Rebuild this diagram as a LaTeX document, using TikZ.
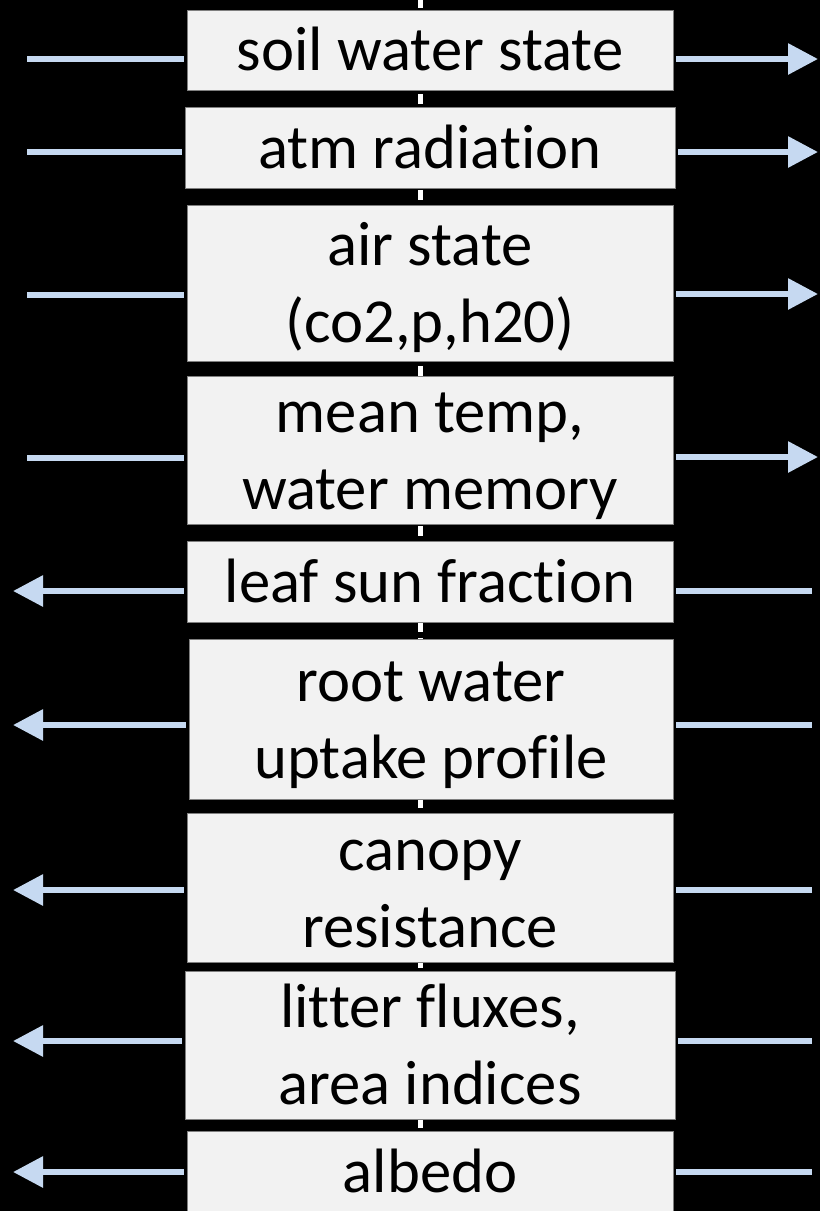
\documentclass[tikz,border=0pt]{standalone}
\usepackage{fontspec}
\setmainfont{Carlito}[Ligatures={NoCommon,NoRequired,NoContextual}]
\usetikzlibrary{arrows.meta}

\definecolor{boxfill}{RGB}{242,242,242}
\definecolor{boxline}{RGB}{127,127,127}
\definecolor{flowblue}{RGB}{198,217,241}
\newcommand\lstrut{\rule[-0.244em]{0pt}{1.144em}}

\tikzset{every picture/.style={line width=0.75pt}}
\tikzset{
  varbox/.style={draw=boxline, fill=boxfill, inner sep=0pt, align=center, text=black,
    font=\fontsize{47}{57.75}\selectfont},
  flow/.style={draw=flowblue, line width=4.5pt, shorten <=2pt},
  flowtip/.style={flow, -{Triangle[length=22.5pt,width=22.5pt]}},
  axis/.style={draw=white, line width=3.75pt, dash pattern=on 7.5pt off 4.5pt}
}

\begin{document}
\begin{tikzpicture}[x=0.75pt,y=0.75pt,yscale=-1,xscale=1]
%set diagram to 820 x 1211, black background
\fill[black] (0,0) rectangle (820,1211);
\useasboundingbox (0,0) rectangle (820,1211);

%Dashed axis behind the boxes
\coordinate (axtop) at (420,-2);
\coordinate (axbot) at (420,1215);
\draw[axis] (axtop) -- (axbot);

% Text Node
\node[varbox, minimum width=364.5pt, minimum height=60pt] (soil) at (430,50) {\lstrut soil water state};
% Text Node
\node[varbox, minimum width=367.5pt, minimum height=60.75pt] (atm) at (430,147.5) {\lstrut atm radiation};
% Text Node
\node[varbox, minimum width=364.5pt, minimum height=117pt] (air) at (430,283) {\lstrut air state\\(co2,p,h20)\lstrut};
% Text Node
\node[varbox, minimum width=364.5pt, minimum height=110.25pt] (mean) at (430,450.5) {\lstrut mean temp,\\water memory\lstrut};
% Text Node
\node[varbox, minimum width=364.5pt, minimum height=60.75pt] (leaf) at (430,581.5) {\lstrut leaf sun fraction};
% Text Node
\node[varbox, minimum width=363pt, minimum height=120pt] (root) at (431,719) {\lstrut root water\\uptake profile\lstrut};
% Text Node
\node[varbox, minimum width=364.5pt, minimum height=108pt] (canopy) at (430,888) {\lstrut canopy\\resistance\lstrut};
% Text Node
\node[varbox, minimum width=367.5pt, minimum height=102.75pt] (litter) at (430,1045.5) {\lstrut litter fluxes,\\area indices\lstrut};
% Text Node
\node[varbox, minimum width=364.5pt, minimum height=60.75pt] (albedo) at (430,1172) {\lstrut albedo};

%Free ends on the left
\coordinate (soilin) at (27,59);
\coordinate (atmin) at (27,152);
\coordinate (airin) at (27,295);
\coordinate (meanin) at (27,458);
\coordinate (leafout) at (13,591);
\coordinate (rootout) at (13,725);
\coordinate (canopyout) at (13,890);
\coordinate (litterout) at (13,1041);
\coordinate (albedoout) at (13,1172);
%Free ends on the right
\coordinate (soilout) at (818,59);
\coordinate (atmout) at (818,152);
\coordinate (airout) at (818,294);
\coordinate (meanout) at (818,457);
\coordinate (leafin) at (812,591);
\coordinate (rootin) at (812,725);
\coordinate (canopyin) at (812,890);
\coordinate (litterin) at (812,1041);
\coordinate (albedoin) at (812,1172);

%Straight Lines
\draw[flow] (soil.west |- soilin) -- (soilin);
\draw[flow] (atm.west |- atmin) -- (atmin);
\draw[flow] (air.west |- airin) -- (airin);
\draw[flow] (mean.west |- meanin) -- (meanin);
\draw[flowtip] (soil.east |- soilout) -- (soilout);
\draw[flowtip] (atm.east |- atmout) -- (atmout);
\draw[flowtip] (air.east |- airout) -- (airout);
\draw[flowtip] (mean.east |- meanout) -- (meanout);

\draw[flowtip] (leaf.west |- leafout) -- (leafout);
\draw[flowtip] (root.west |- rootout) -- (rootout);
\draw[flowtip] (canopy.west |- canopyout) -- (canopyout);
\draw[flowtip] (litter.west |- litterout) -- (litterout);
\draw[flowtip] (albedo.west |- albedoout) -- (albedoout);
\draw[flow] (leaf.east |- leafin) -- (leafin);
\draw[flow] (root.east |- rootin) -- (rootin);
\draw[flow] (canopy.east |- canopyin) -- (canopyin);
\draw[flow] (litter.east |- litterin) -- (litterin);
\draw[flow] (albedo.east |- albedoin) -- (albedoin);

\end{tikzpicture}
\end{document}
